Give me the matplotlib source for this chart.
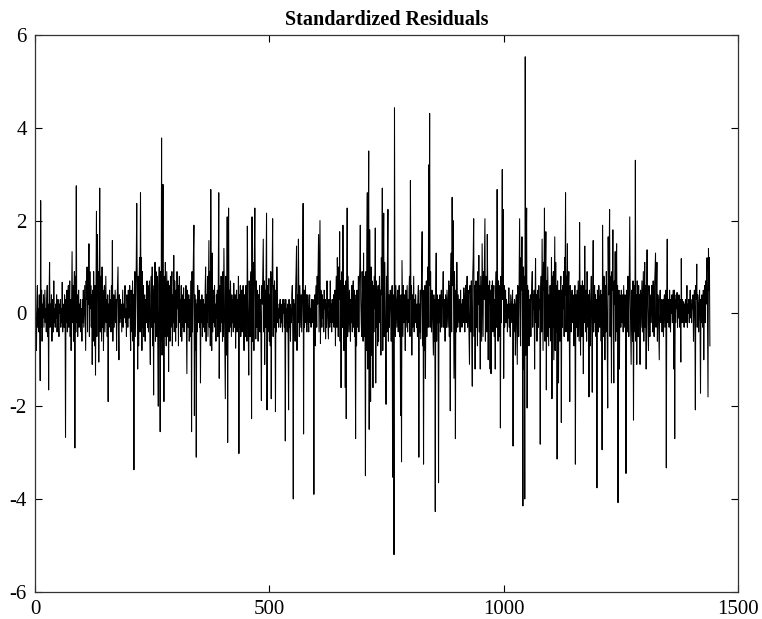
import numpy as np
import matplotlib
matplotlib.use("Agg")
import matplotlib.pyplot as plt

resid_block1 = [
    0.2, -0.5, -0.8, 0.3, 0.6, -0.3, 0.1, -0.4, 0.4, -0.2, -1.45, 2.43, -0.3, 0.5, -0.6, 0.2, -0.1, 0.4, -0.3, 0.1,
    0.5, -0.2, 0.1, -0.4, 0.3, 0.6, -0.5, 0.2, -1.65, 0.4, 1.1, -0.3, 0.2, -0.2, 0.4, -0.6, 0.1, 0.3, -0.4, 0.7,
    -0.2, 0.1, -0.3, 0.2, -0.1, 0.4, -0.4, 0.1, 0.3, -0.2, -0.5, 0.2, 0.0, 0.3, -0.3, 0.1, -0.2, 0.67, -0.4, 0.2,
    0.1, -0.3, 0.4, 0.2, -2.67, 0.3, -0.2, 0.5, -0.4, 0.2, 0.6, -0.3, 0.1, 0.7, -0.5, 0.3, -0.8, 0.4, 1.33, -0.2,
    0.6, -0.6, 0.3, 0.9, -2.9, 0.8, -0.4, 2.75, -0.2, 0.4, -0.5, 0.2, 0.5, -0.3, 0.2, -0.1, 0.3, -0.4, 0.1, -0.6,
    0.3, -0.2, 0.5, -0.3, 0.2, 0.6, -0.1, -0.8, 0.7, 0.3, 1.0, -0.4, 0.8, 0.2, 1.5, -0.5, 0.9, 0.1, 0.6, -0.3,
    0.4, -1.1, 0.5, -0.6, 0.9, 0.2, -0.7, 0.6, -1.33, 0.4, 2.2, -0.5, 1.7, 0.3, 0.9, -1.05, 0.5, 2.7, -0.4, 0.8,
    0.1, -0.6, 1.0, -0.3, 0.5, -0.8, 0.3, 0.6, -0.4, 0.2, 0.8, -0.2, 0.3, -0.5, 0.4, -1.9, 0.2, -0.1, 0.5, -0.3,
    0.3, -0.4, 0.6, -0.2, 1.57, -0.6, 0.2, 0.4, -0.3, 0.1, 0.5, -0.2, 0.3, -0.8, 0.2, 0.6, 1.0, -0.3, -1.0, 0.4,
    -0.2, 0.3, -0.1, 0.2, -0.4, 0.1, 0.5, -0.3, 0.2, -0.1, 0.3, 0.6, -0.2, 0.1, -0.5, 0.4, 0.2, -0.3, 0.5, -0.1,
    0.3, 0.6, -0.2, -0.8, 0.5, 0.2, -0.4, 0.7, -0.6, 0.4, -3.37, 0.5, 0.9, -0.5, 0.3, 1.1, 2.37, 0.4, -1.2, 0.8,
    -0.7, 0.6, 1.2, -0.4, 2.6, 0.3, 1.2, -0.8, 0.9, -0.3, 0.6, -0.5, 0.2, 0.4, -0.6, 0.3, -0.2, 0.5, 0.7, -0.3,
]
resid_block2 = [
    0.6, -0.4, 0.2, 0.7, -0.5, -1.1, 0.4, 0.8, -0.3, 1.0, -0.7, 0.5, -1.76, 0.6, -0.2, 1.1, -0.6, 0.9, 0.3, -0.5,
    0.8, -0.8, -2.0, 0.6, 1.0, -0.4, -2.55, 0.9, -0.6, 3.78, -0.9, 1.2, 2.78, 0.5, -1.9, 0.8, -0.5, 1.1, 0.3, -0.7,
    0.9, 0.2, -0.5, 0.7, -1.25, 0.6, 0.1, -0.6, 0.8, -0.3, 0.5, 0.9, -0.7, 0.4, -0.2, 1.25, -0.4, 0.7, 0.2, -0.6,
    0.5, -0.3, 0.9, 0.1, 0.6, -0.7, 0.4, 0.8, -0.2, 0.3, -0.5, 0.6, -0.6, 0.2, 0.4, -0.3, 0.55, -0.4, 0.1, 0.3,
    -0.2, 0.6, -0.4, -1.3, 0.5, 0.2, -0.3, 0.4, -0.6, 0.1, 0.3, -0.5, 0.7, -2.55, 0.9, -0.4, 0.5, 1.3, 1.9, -2.2,
    0.4, -0.8, 0.3, -3.1, 0.2, -0.4, 0.6, -0.2, 0.1, 0.5, -0.3, 0.3, -1.5, 0.2, -0.2, 0.4, -0.5, 0.1, 0.3, -0.3,
    0.2, -0.4, 0.5, 1.0, -0.6, 0.4, -0.2, 0.8, -0.5, 0.6, 1.57, -0.3, 0.9, -0.7, 2.67, 0.2, -0.8, 1.3, -0.4, 0.5,
    -0.2, 0.3, 0.6, -0.3, 0.2, -0.6, 0.4, -0.1, 0.5, -0.5, 0.7, 2.6, -1.4, 0.3, 0.6, -0.4, 0.8, -0.2, 0.5, -0.6,
    0.9, -0.5, 1.4, 0.3, -0.7, -1.84, 0.8, 0.2, -0.9, 2.08, -2.78, 0.6, 2.27, -0.4, 0.5, -0.3, 0.7, 0.1, -0.5, 0.4,
    -0.2, 0.3, -0.4, 0.65, 0.1, -0.3, 0.4, -0.75, 0.2, 0.5, -0.4, 0.3, -0.2, 0.8, -3.02, 0.4, -0.3, 0.6, -0.5, 0.2,
    0.5, -0.4, 0.3, 0.6, -0.2, -0.8, 0.4, 0.1, -0.5, 0.6, 0.2, -0.6, 1.88, 0.3, -0.4, -1.33, 0.7, 0.2, -0.5, 0.6,
    0.9, -2.27, 2.08, -0.6, 1.1, 0.4, -0.8, 1.3, 2.27, 0.5, -0.55, 0.7, -0.3, 0.5, 0.2, -0.6, 0.4, -0.2, 0.6, -0.4,
]
resid_block3 = [
    0.3, -0.5, -1.88, 0.6, 0.2, 0.9, 1.6, -0.4, 0.7, -1.1, 0.5, -0.3, 1.0, 2.16, -2.08, 0.6, -0.4, 0.3, 0.75, -0.6,
    0.4, -0.7, 0.9, -1.84, 0.5, 0.8, 2.04, -0.5, 0.6, -0.3, 0.7, 0.2, -2.12, 0.5, -0.4, 1.0, 0.3, -0.2, 0.1, -0.3,
    0.2, -0.1, 0.3, -0.3, 0.1, -0.2, 0.2, -0.4, 0.3, 0.0, 0.3, -0.3, 0.2, -2.75, 0.3, -0.2, 0.1, -0.4, 0.2, -0.5,
    -2.08, 0.3, -0.3, 0.2, -0.6, 0.1, -0.2, 0.4, 0.6, -0.5, -4.0, 0.3, -0.4, 0.2, -0.6, 0.5, 0.9, 1.45, -0.8, 0.4,
    -0.2, 1.6, 0.3, -0.5, 0.6, 0.1, -0.3, 0.4, -0.4, 0.2, 0.7, 2.37, -2.6, 0.5, -0.3, 0.2, 0.6, -0.2, 0.4, -0.4,
    0.2, 0.4, -0.1, -0.4, 0.3, 0.4, -0.2, 0.1, -0.3, 0.3, 0.0, -0.2, 0.3, 0.1, -3.9, 0.2, 0.4, -0.7, 0.3, 0.6,
    -0.3, 0.8, 0.2, 1.0, 1.7, -0.4, 0.9, 2.0, -0.65, 0.5, 0.2, -0.3, 0.4, -0.1, 0.3, -0.4, 0.5, 0.1, 0.3, -0.55,
    0.2, -0.3, 0.7, 0.1, -0.2, -0.55, 0.3, 0.1, -0.3, 0.7, -0.2, 0.2, -0.4, 0.3, 0.0, -0.2, 0.4, -0.3, 0.2, 0.5,
    -0.7, 0.4, 0.8, -0.3, 1.2, 0.5, -0.5, 1.0, 0.3, 1.76, -0.6, 0.7, -1.6, 0.4, 0.9, -0.3, 1.9, 0.2, -0.8, 0.6,
    0.5, -1.6, 0.7, -2.27, 0.4, 2.27, -0.5, 0.8, 0.2, -0.4, 0.5, 0.1, -0.6, 0.3, -0.2, 0.6, -0.4, 0.3, 0.7, -0.3,
    0.5, -0.5, 0.3, -2.7, 0.4, -0.7, 0.5, 0.2, -0.3, 0.8, -0.4, 0.6, 1.0, 1.9, 0.3, -0.2, -0.5, 0.9, 0.4, -0.6,
    1.3, -0.5, 0.8, 0.2, -3.5, 0.9, -0.8, 1.4, 2.6, -1.2, 1.6, 3.5, -2.5, 1.8, 0.5, -1.9, 1.0, -0.9, 0.7, 0.2,
]
resid_block4 = [
    -1.6, 0.6, -0.4, 0.8, 0.1, 1.84, -1.5, 0.7, -0.3, 0.5, -0.7, 0.6, -0.6, 0.3, 0.8, -0.2, 0.5, -0.9, 1.2, 0.4,
    2.7, -0.8, 0.9, 2.16, -0.5, 1.1, 0.3, -0.7, -1.96, 0.8, -0.4, 1.2, 2.24, -0.6, 0.4, -0.3, 0.2, 0.5, 0.1, -0.6,
    0.3, 0.6, -3.53, 0.4, -0.6, -5.2, 4.43, 0.2, -0.5, 0.6, 0.1, -0.3, 0.3, 0.5, -0.4, 0.2, 0.6, -0.5, 0.3, -2.2,
    0.4, -3.2, 1.14, 0.3, -0.5, 0.6, -0.2, 0.4, 0.1, -0.8, 0.5, -0.3, 0.2, 0.6, -0.4, 0.3, -0.2, 0.5, 0.8, -0.5,
    2.86, 0.3, 0.6, -0.9, 0.4, -0.3, 0.2, 0.8, -0.4, 0.3, -0.2, 0.4, 0.1, -0.3, 0.2, -0.5, 0.3, 0.6, -3.1, 0.2,
    -0.4, 0.5, -0.55, 0.3, 1.0, 1.76, -0.7, 0.5, -3.25, 0.4, -0.8, 0.6, -1.4, 0.2, 0.7, -0.5, 0.4, 1.0, -0.3, 3.2,
    0.6, 4.31, -0.3, 0.9, 0.0, -0.4, 0.5, 0.2, -0.3, -0.9, 0.4, -0.6, 0.3, -4.27, 0.5, 1.3, -0.6, 0.4, -0.2, 0.3,
    -3.65, 0.3, -0.2, 0.4, -0.4, 0.2, 0.5, -0.3, 0.1, 0.4, 0.9, -0.3, 0.3, 0.1, -0.6, 0.4, 0.2, -0.3, 0.5, 0.1,
    -0.3, 0.4, 0.7, -0.5, 0.6, -2.1, 0.8, 1.3, -0.4, 2.5, 0.6, 2.0, 0.3, -1.4, 0.9, 0.2, -2.7, 0.5, -0.4, 1.1,
    0.2, -0.3, 0.4, 0.1, -0.2, 0.3, -0.4, 0.5, 0.0, 0.2, -0.3, 0.3, 0.1, -0.2, 0.55, 0.2, -0.4, 0.3, 0.6, -0.2,
    0.4, 0.8, -0.3, 0.5, 0.2, -0.5, -1.1, 0.6, 0.3, -0.4, 0.7, -0.6, -1.57, 0.8, 1.2, 2.04, -0.5, 0.6, -1.2, 0.4,
    0.7, -0.3, 0.5, -0.7, 0.9, 0.2, 1.25, -0.4, 0.6, -1.2, 0.8, 0.1, -0.6, 1.5, 0.4, -0.5, 0.9, 0.3, 1.1, 2.04,
]
resid_block5 = [
    -0.6, 0.8, 0.3, -0.4, 1.7, 0.5, -1.0, 0.6, 0.2, 0.7, -1.2, 0.5, -1.3, 0.6, 0.1, 0.7, -0.4, 0.3, 0.6, -0.5,
    0.3, -1.2, 0.5, 0.9, -0.3, 2.67, 0.4, -0.6, 0.7, 0.2, -0.5, 0.6, -2.47, 0.8, -0.2, 1.2, 3.1, 0.3, 2.24, -1.4,
    0.6, -0.3, 0.2, 0.5, -0.2, 0.3, 0.1, -0.4, 0.2, -0.1, 0.55, -0.3, 0.2, -0.5, 0.4, 0.1, -0.2, 0.3, 0.5, -2.86,
    0.2, -0.4, 0.3, 0.1, -0.9, 0.2, 0.4, -0.3, -1.1, 0.6, 0.3, -0.5, 0.9, 2.04, 0.4, -0.7, 1.2, 0.5, 1.65, -0.7,
    -4.15, 1.0, -1.2, 0.8, -4.0, 5.53, -0.9, 1.3, 2.27, -2.04, 0.6, -0.4, 0.5, -0.7, 0.3, -0.2, 0.4, -0.5, 0.2, 0.6,
    0.9, -0.3, 0.4, 0.1, 0.5, -1.2, 0.3, 1.18, -0.2, 0.4, -0.6, 0.2, 0.5, -0.3, 0.6, 0.1, 0.3, -2.82, 0.5, 0.8,
    -0.4, 1.6, 0.3, -0.8, 1.1, 0.5, 2.27, -0.6, 0.9, 1.76, -1.65, 0.7, -0.5, 1.0, 0.2, -0.7, 0.4, -0.3, 0.6, 0.1,
    -0.6, 1.2, -1.84, 0.8, -0.3, 0.9, -1.0, 0.5, 1.65, -0.8, 1.1, -0.4, 0.6, -3.14, 0.7, -0.2, -1.5, 0.5, 0.2, -0.6,
    0.4, 0.8, -2.35, 0.5, -0.3, 0.6, 0.1, 0.9, -0.5, 1.2, 0.4, 2.6, -0.4, 0.8, 0.2, 1.5, -0.6, 0.5, 0.9, -0.3,
    -1.9, 0.6, 0.2, -0.4, 0.3, 0.5, -0.2, 0.4, 0.1, -0.7, 0.3, 0.6, -3.25, 0.4, -0.3, 0.2, 0.5, -0.5, 0.7, 0.1,
    -0.6, 1.96, 0.3, -0.9, 0.6, 0.2, -0.5, 0.7, 0.1, -1.3, 0.6, -0.2, 1.45, 0.3, -0.4, 0.5, -0.6, 0.9, 0.2, -0.3,
    0.4, -1.8, 0.5, 0.1, -0.7, 0.4, 0.8, -0.3, -1.7, 0.6, 1.57, -0.4, 0.3, 0.6, -0.2, 0.4, -0.5, 0.3, -3.76, 0.5,
]
resid_block6 = [
    0.3, -0.4, 0.6, 0.2, -0.3, 0.3, 0.5, -0.6, 0.4, -2.94, 1.9, 0.3, -0.5, 0.8, 0.2, -1.0, 0.6, -0.4, 0.9, 0.3,
    -0.6, -2.04, 1.65, 0.4, 1.1, 2.24, -0.5, 0.8, 0.3, -1.5, 0.9, 0.5, 1.8, -0.3, -1.5, 0.7, 0.2, 1.33, -0.6, 0.8,
    1.5, -0.4, 0.6, -4.08, 0.3, 0.5, -1.2, 0.4, 0.1, -0.3, 0.5, 0.2, -0.2, 0.4, -0.4, 0.6, 0.1, -0.3, 0.4, 0.2,
    -3.45, 0.5, 0.2, -0.4, 0.8, 0.3, -0.5, 0.9, 2.08, 0.4, -0.3, -1.1, 0.5, 0.2, -0.6, 0.7, -2.3, 0.3, 0.6, -0.4,
    3.3, -0.6, 0.4, -1.1, 0.7, 0.2, -0.5, 0.6, -0.2, 0.4, -1.1, 0.5, -0.3, 0.2, 0.7, -0.4, 0.3, 0.9, -0.6, 0.4,
    1.1, -0.3, 0.6, -1.2, 0.5, 1.37, 0.2, -0.4, -0.8, 0.6, 0.3, -0.5, 0.4, 0.1, -0.2, 0.6, 0.3, -0.4, 0.7, 0.2,
    -0.5, 0.6, 0.9, 1.3, -0.3, 0.5, 1.1, -0.6, 0.4, 0.2, -0.4, -1.0, 0.3, 0.5, -0.2, 0.3, 0.1, -0.4, 0.2, 0.3,
    -0.5, 0.2, 0.4, -0.3, 0.1, 0.5, -3.33, 0.4, 1.6, -0.2, 0.3, 0.1, -0.3, 0.5, 0.2, -0.4, 0.3, 0.0, 0.4, -0.2,
    0.2, 0.5, -1.2, 0.5, -2.7, 0.3, -0.2, 0.4, 0.1, 0.45, -0.3, 0.2, -0.1, 0.4, 0.2, -0.3, 0.3, -1.05, 1.18, -0.2,
    0.3, -0.2, 0.1, 0.25, -0.3, 0.2, 0.0, 0.3, -0.2, 0.1, 0.6, -0.3, 0.2, 0.0, 0.3, -0.2, 0.1, 0.5, -0.1, 0.2,
    -0.2, 0.3, 0.1, 0.4, -0.6, 0.2, 0.5, -0.1, -2.08, 0.6, 0.3, 1.06, -0.3, 0.4, 0.1, -0.4, 0.2, 0.5, -0.2, -1.72,
    0.3, -0.2, 0.4, 0.1, -0.3, 0.5, -1.0, 0.3, 0.6, -0.2, 0.7, 0.2, 0.9, 1.2, -0.4, -1.8, 1.4, 0.5, 1.2, -0.7,
]

title_text = "Standardized Residuals"
x_ticks = [0, 500, 1000, 1500]
y_ticks = [-6, -4, -2, 0, 2, 4, 6]

resid = np.array(resid_block1 + resid_block2 + resid_block3 +
                 resid_block4 + resid_block5 + resid_block6)
obs = np.arange(1, len(resid) + 1)

plt.rcParams['font.family'] = ['Liberation Serif', 'DejaVu Serif']
plt.rcParams['axes.unicode_minus'] = False

fig = plt.figure(figsize=(7.62, 6.19), dpi=100)
ax = fig.add_axes([0.046, 0.044, 0.9225, 0.8995])

ax.plot(obs, resid, color='black', linewidth=0.75)

ax.set_xlim(0, 1500)
ax.set_ylim(-6, 6)
ax.set_xticks(x_ticks)
ax.set_yticks(y_ticks)
ax.tick_params(direction='in', top=True, right=True, length=5, width=0.8,
               labelsize=15, pad=6, colors='black')
for s in ax.spines.values():
    s.set_linewidth(0.9)
    s.set_color('#333333')

ax.set_title(title_text, fontsize=14.5, fontweight='bold', pad=7)

fig.savefig('out.png', dpi=100)
